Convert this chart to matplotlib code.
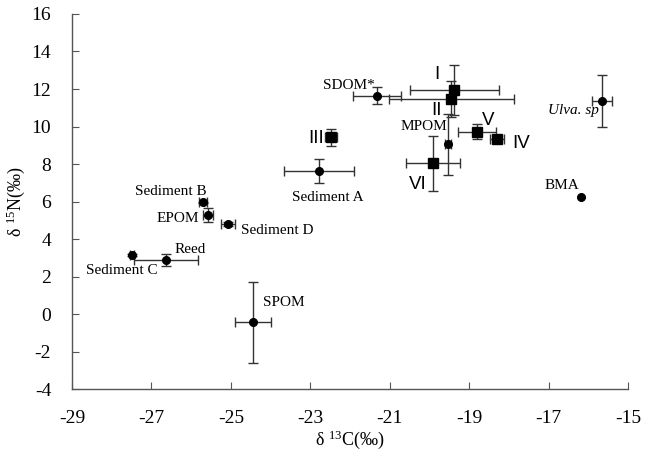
import matplotlib
matplotlib.use("Agg")
import matplotlib.pyplot as plt

plt.rcParams['font.family'] = ['Liberation Serif', 'DejaVu Serif']
plt.rcParams['mathtext.fontset'] = 'custom'
plt.rcParams['mathtext.rm'] = 'Liberation Serif'
plt.rcParams['mathtext.it'] = 'Liberation Serif:italic'
plt.rcParams['axes.unicode_minus'] = False

nan = float('nan')

# Sources (circles)
src_names = ["Sediment C", "Reed", "Sediment B", "EPOM", "Sediment D", "SPOM",
             "Sediment A", "SDOM*", "MPOM", "BMA", "Ulva. sp"]
src_c = [-27.5, -26.63, -25.7, -25.57, -25.07, -24.44, -22.78, -21.32, -19.53, -16.18, -15.65]
src_n = [3.15, 2.88, 5.95, 5.3, 4.8, -0.45, 7.65, 11.65, 9.05, 6.22, 11.35]
src_cerr = [0.05, 0.8, 0.1, 0.13, 0.18, 0.45, 0.88, 0.6, 0.08, nan, 0.25]
src_nerr = [0.05, 0.32, 0.05, 0.37, 0.1, 2.18, 0.64, 0.45, 1.62, nan, 1.39]

# Consumers (squares)
con_names = ["I", "II", "III", "IV", "V", "VI"]
con_c = [-19.38, -19.45, -22.48, -18.3, -18.8, -19.91]
con_n = [11.95, 11.45, 9.42, 9.33, 9.72, 8.05]
con_cerr = [1.12, 1.57, 0.15, 0.17, 0.47, 0.68]
con_nerr = [1.33, 0.96, 0.45, 0.1, 0.4, 1.47]

# label offsets (pixels) and alignment
src_off = {"Sediment C": (-10, -16, 'center'), "Reed": (8, 11, 'left'),
           "Sediment B": (4, 11, 'right'), "EPOM": (-9, -4, 'right'),
           "Sediment D": (13, -6, 'left'), "SPOM": (10, 20, 'left'),
           "Sediment A": (9, -27, 'center'), "SDOM*": (-2, 10, 'right'),
           "MPOM": (-1, 18, 'right'), "BMA": (-2, 12, 'right'),
           "Ulva. sp": (-3, -9, 'right')}
con_off = {"I": (-17, 15, 'center'), "II": (-15, -11, 'center'),
           "III": (-7, -1, 'right'), "IV": (24, -4, 'center'),
           "V": (11, 11, 'center'), "VI": (-15, -21, 'center')}

fig = plt.figure(figsize=(6.45, 4.59), dpi=100)
ax = fig.add_axes([0.1116, 0.1525, 0.862, 0.817])

ecol = '#333333'
ax.errorbar(src_c, src_n, xerr=src_cerr, yerr=src_nerr, fmt='o', color='black',
            ms=5.5, ecolor=ecol, elinewidth=1, capsize=3.5, capthick=1, zorder=3)
ax.errorbar(con_c, con_n, xerr=con_cerr, yerr=con_nerr, fmt='s', color='black',
            ms=7.5, ecolor=ecol, elinewidth=1, capsize=3.5, capthick=1, zorder=3)

for name, x, y in zip(src_names, src_c, src_n):
    dx, dy, ha = src_off[name]
    style = 'italic' if name.startswith('Ulva') else 'normal'
    ax.annotate(name, (x, y), xytext=(dx, dy), textcoords='offset pixels',
                ha=ha, va='center', fontsize=11, fontstyle=style)

for name, x, y in zip(con_names, con_c, con_n):
    dx, dy, ha = con_off[name]
    ax.annotate(name, (x, y), xytext=(dx, dy), textcoords='offset pixels',
                ha=ha, va='center', fontsize=13.5, family='Liberation Sans')

ax.set_xlim(-29, -15)
ax.set_ylim(-4, 16)
ax.set_xticks(range(-29, -14, 2))
ax.set_yticks(range(-4, 17, 2))
ax.spines['top'].set_visible(False)
ax.spines['right'].set_visible(False)
for s in ['left', 'bottom']:
    ax.spines[s].set_color('#555555')
    ax.spines[s].set_linewidth(1)
ax.tick_params(direction='in', length=5, width=0.8, color='#555555',
               labelsize=14, pad=15)

ax.set_xlabel(r'δ $^{13}$C(‰)', fontsize=13, labelpad=1)
ax.set_ylabel(r'δ $^{15}$N(‰)', fontsize=13, labelpad=3)

fig.savefig('out.png', dpi=100)
